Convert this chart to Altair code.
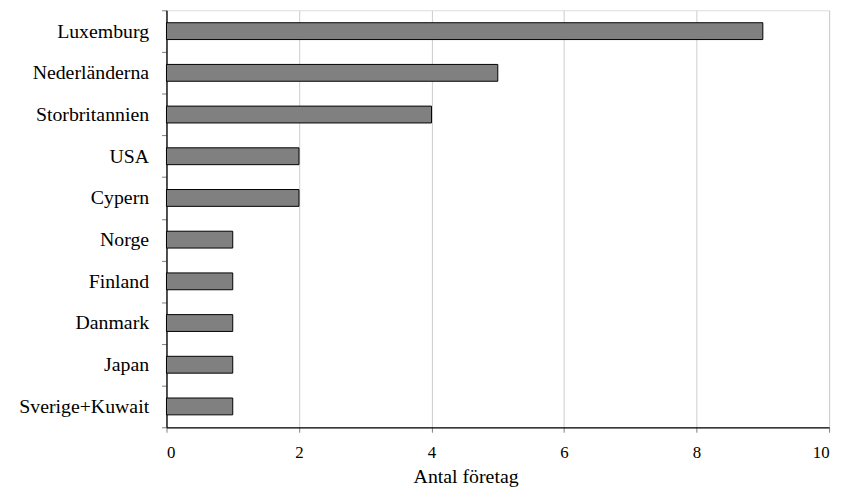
import altair as alt
import pandas as pd

countries = ["Luxemburg", "Nederländerna", "Storbritannien", "USA", "Cypern",
             "Norge", "Finland", "Danmark", "Japan", "Sverige+Kuwait"]
counts = [9, 5, 4, 2, 2, 1, 1, 1, 1, 1]
x_ticks = [0, 2, 4, 6, 8, 10]

df = pd.DataFrame({"land": countries, "antal": counts})

FONT = "'Liberation Serif', 'DejaVu Serif', serif"

chart = alt.Chart(df).mark_bar(
    size=17, fill="#808080", stroke="#000000", strokeWidth=1
).encode(
    x=alt.X("antal:Q",
            scale=alt.Scale(domain=[0, 10], nice=False),
            axis=alt.Axis(values=x_ticks, title="Antal företag", format="d",
                          grid=True, gridColor="#cccccc", gridWidth=1,
                          domainColor="#000000", domainWidth=1.3,
                          tickColor="#808080", tickSize=5,
                          labelFont=FONT, labelFontSize=17, labelColor="#000000",
                          labelPadding=13,
                          titleFont=FONT, titleFontSize=20, titleFontWeight="normal",
                          titleColor="#000000", titleX=302, titleY=56,
                          titleBaseline="alphabetic", titleAlign="center")),
    y=alt.Y("land:N", sort=countries,
            scale=alt.Scale(paddingInner=0, paddingOuter=0),
            axis=alt.Axis(title=None, grid=False, tickBand="extent",
                          domainColor="#000000", domainWidth=1.3,
                          tickColor="#808080", tickSize=5,
                          labelFont=FONT, labelFontSize=20, labelColor="#000000",
                          labelPadding=13)),
).properties(
    width=669, height=421,
    autosize=alt.AutoSizeParams(type="none"),
    padding={"left": 160, "top": 0, "right": 10, "bottom": 60},
).configure_view(
    stroke="#808080", strokeWidth=1.3
).configure(background="white")

chart.save("out.html", embed_options={"renderer": "svg", "actions": False})
